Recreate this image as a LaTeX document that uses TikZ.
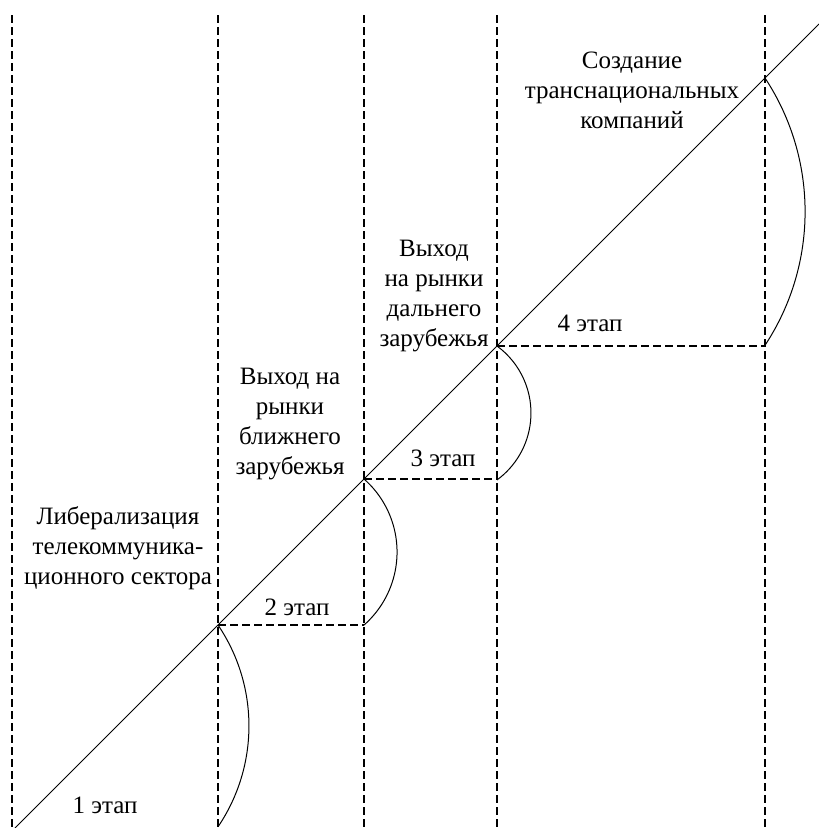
\documentclass[tikz,border=0pt]{standalone}
\usepackage{fontspec}
\setmainfont{Liberation Serif}
\newfontfamily\tnr{Liberation Serif}
\begin{document}
\begin{tikzpicture}[x=1pt,y=1pt,
  sep/.style={draw=black,line width=2pt,dash pattern=on 8pt off 4pt},
  hsep/.style={draw=black,line width=2pt,dash pattern=on 8pt off 4pt},
  diag/.style={draw=black,line width=1pt},
  bow/.style={draw=black,line width=1pt},
  lbl/.style={inner sep=0pt,align=center,font=\tnr\fontsize{25}{30}\selectfont},
]
\useasboundingbox (0,0) rectangle (819,-828);
% vertical separators
\coordinate (t0) at (12,-15);  \coordinate (b0) at (12,-828);
\coordinate (t1) at (218,-15); \coordinate (b1) at (218,-828);
\coordinate (t2) at (364,-15); \coordinate (b2) at (364,-828);
\coordinate (t3) at (497,-15); \coordinate (b3) at (497,-828);
\coordinate (t4) at (765,-15); \coordinate (b4) at (765,-828);
\foreach \i in {0,...,4} \draw[sep] (t\i) -- (b\i);
% diagonal
\coordinate (d0) at (15,-828);
\coordinate (d1) at (819,-24);
\draw[diag] (d0) -- (d1);
% intersections
\coordinate (p1) at (218,-625);
\coordinate (p2) at (364,-479);
\coordinate (p3) at (497,-346);
\coordinate (p4) at (765,-78);
\coordinate (q1) at (364,-625);
\coordinate (q2) at (497,-479);
\coordinate (q3) at (765,-346);
% horizontal dashed
\draw[hsep] (p1) -- (q1);
\draw[hsep] (p2) -- (q2);
\draw[hsep] (p3) -- (q3);
% arcs
\draw[bow] (p1) arc[start angle=34.1,end angle=-34.1,radius=180];
\draw[bow] (p2) arc[start angle=48.7,end angle=-48.7,radius=97.2];
\draw[bow] (p3) arc[start angle=53.8,end angle=-53.8,radius=83];
\draw[bow] (p4) arc[start angle=33.4,end angle=-33.4,radius=242.8];
% stage labels
\node[lbl] (s1) at (105,-805) {1 этап};
\node[lbl] (s2) at (297,-607) {2 этап};
\node[lbl] (s3) at (443,-458) {3 этап};
\node[lbl] (s4) at (590,-323) {4 этап};
% block texts
\node[lbl] (l1) at (118,-548) {Либерализация\\телекоммуника-\\ционного сектора};
\node[lbl] (l2) at (290,-424) {Выход на\\рынки\\ближнего\\зарубежья};
\node[lbl] (l3) at (434,-296) {Выход\\на рынки\\дальнего\\зарубежья};
\node[lbl] (l4) at (632,-90) {Создание\\транснациональных\\компаний};
\end{tikzpicture}
\end{document}
